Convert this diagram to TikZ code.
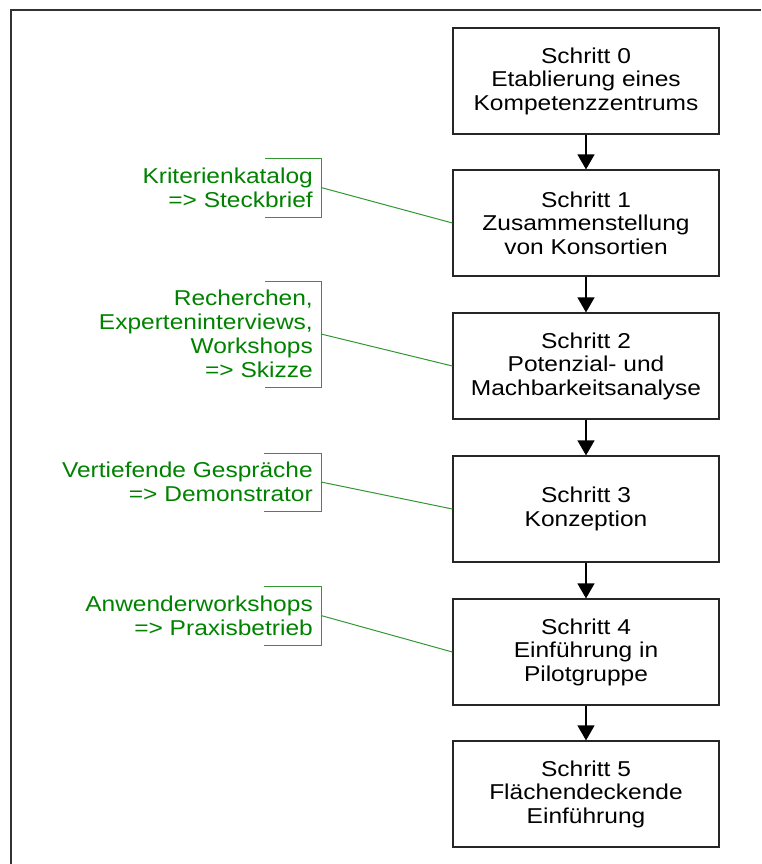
\documentclass[tikz,border=0pt]{standalone}
\usepackage{fontspec}
\setmainfont{Liberation Sans}[FakeStretch=1.14]
\usetikzlibrary{arrows.meta}
\definecolor{notegreen}{RGB}{0,130,0}
\definecolor{linegreen}{RGB}{50,150,50}
\definecolor{framegray}{RGB}{50,50,50}
\begin{document}
\begin{tikzpicture}[x=1pt,y=-1pt,
  stepbox/.style={draw=black!85,line width=1.2pt,minimum width=266pt,minimum height=106pt,
    inner sep=0pt,align=center,font=\fontsize{21.5}{23.5}\selectfont},
  flow/.style={line width=1.2pt,-{Triangle[width=17pt,length=15pt]}},
  note/.style={anchor=east,align=right,text=notegreen,inner sep=0pt,
    font=\fontsize{21.5}{23.8}\selectfont},
  bracket/.style={draw=linegreen,line width=1pt},
  link/.style={draw=linegreen,line width=1pt}]
\useasboundingbox (0,0) rectangle (761,864);
% frame
\draw[framegray,line width=1.5pt] (11,864) -- (11,10) -- (761,10);

% process steps
\node[stepbox] (s0) at (586,81)  {Schritt 0\\Etablierung eines\\Kompetenzzentrums};
\node[stepbox] (s1) at (586,223) {Schritt 1\\Zusammenstellung\\von Konsortien};
\node[stepbox] (s2) at (586,366) {Schritt 2\\Potenzial- und\\Machbarkeitsanalyse};
\node[stepbox] (s3) at (586,509) {Schritt 3\\Konzeption};
\node[stepbox] (s4) at (586,652) {Schritt 4\\Einführung in\\Pilotgruppe};
\node[stepbox] (s5) at (586,794) {Schritt 5\\Flächendeckende\\Einführung};

\draw[flow] (s0) -- (s1);
\draw[flow] (s1) -- (s2);
\draw[flow] (s2) -- (s3);
\draw[flow] (s3) -- (s4);
\draw[flow] (s4) -- (s5);

% annotations with brackets
\node[note] (n1) at (313,187.5) {Kriterienkatalog\\=> Steckbrief};
\draw[bracket] (265,158) -- (321,158) -- (321,217) -- (265,217);
\coordinate (b1) at (321,187.5);
\draw[link] (b1) -- (s1.west);

\node[note] (n2) at (313,334) {Recherchen,\\Experteninterviews,\\Workshops\\=> Skizze};
\draw[bracket] (265,281) -- (321,281) -- (321,387) -- (265,387);
\coordinate (b2) at (321,334);
\draw[link] (b2) -- (s2.west);

\node[note] (n3) at (313,482) {Vertiefende Gespräche\\=> Demonstrator};
\draw[bracket] (264,453) -- (321,453) -- (321,511) -- (264,511);
\coordinate (b3) at (321,482);
\draw[link] (b3) -- (s3.west);

\node[note] (n4) at (313,615.5) {Anwenderworkshops\\=> Praxisbetrieb};
\draw[bracket] (264,586) -- (321,586) -- (321,645) -- (264,645);
\coordinate (b4) at (321,615.5);
\draw[link] (b4) -- (s4.west);
\end{tikzpicture}
\end{document}
